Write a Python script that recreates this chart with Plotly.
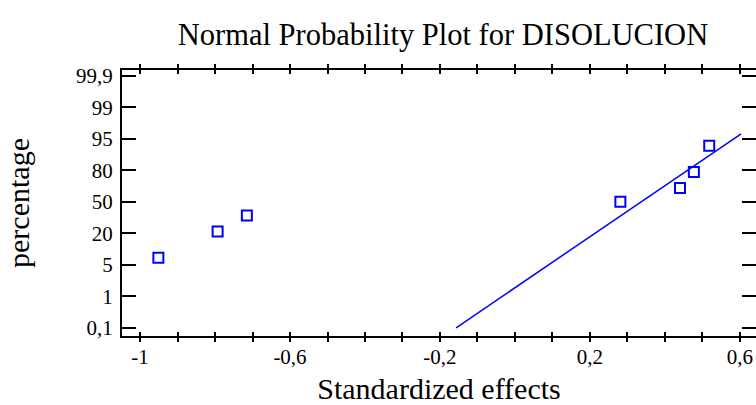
import plotly.graph_objects as go
import numpy as np
from statistics import NormalDist

# ---- data ----
effects = [-0.951, -0.793, -0.715, 0.281, 0.440, 0.477, 0.518]
percent = [7.1, 21.4, 35.7, 50.0, 64.3, 78.6, 92.9]
line_x = [-0.157, 0.603]
line_pct = [0.1, 96.0]
y_tick_pct = [0.1, 1, 5, 20, 50, 80, 95, 99, 99.9]
y_tick_text = ["0,1", "1", "5", "20", "50", "80", "95", "99", "99,9"]
x_tick_vals = [-1.0, -0.9, -0.8, -0.7, -0.6, -0.5, -0.4, -0.3, -0.2, -0.1,
               0.0, 0.1, 0.2, 0.3, 0.4, 0.5, 0.6]
x_tick_text = ["-1", "", "", "", "-0,6", "", "", "", "-0,2", "", "", "",
               "0,2", "", "", "", "0,6"]

nd = NormalDist()
tick_z = [nd.inv_cdf(p / 100.0) for p in y_tick_pct]
tick_idx = list(range(len(y_tick_pct)))


def to_axis(pcts):
    z = [nd.inv_cdf(p / 100.0) for p in pcts]
    return list(np.interp(z, tick_z, tick_idx))


BLUE = "#0000ff"
FONT = "Liberation Serif"
W, H = 756, 405

fig = go.Figure()
fig.add_trace(go.Scatter(
    x=line_x, y=to_axis(line_pct), mode="lines",
    line=dict(color=BLUE, width=1.5), showlegend=False, hoverinfo="skip"))
fig.add_trace(go.Scatter(
    x=effects, y=to_axis(percent), mode="markers",
    marker=dict(symbol="square-open", size=10, color=BLUE,
                line=dict(color=BLUE, width=2)),
    showlegend=False))
# right-side ticks only (no line)
fig.add_trace(go.Scatter(x=[None], y=[None], yaxis="y2", showlegend=False))

yr = [-0.26, 8.18]
fig.update_layout(
    width=W, height=H,
    margin=dict(l=122, r=0, t=70, b=69),
    paper_bgcolor="white", plot_bgcolor="white",
    font=dict(family=FONT, color="black", size=21),
    title=dict(text="Normal Probability Plot for DISOLUCION",
               font=dict(family=FONT, size=30.5, color="black"),
               x=443 / W, xanchor="center", y=1 - 34 / H, yanchor="middle"),
    xaxis=dict(range=[-1.048, 0.6427], tickmode="array",
               tickvals=x_tick_vals, ticktext=x_tick_text,
               ticks="inside", ticklen=4, tickwidth=2, tickcolor="black",
               showline=True, linewidth=2, linecolor="black", mirror="allticks",
               showgrid=False, zeroline=False,
               tickfont=dict(family=FONT, size=21, color="black"),
               ticklabelstandoff=1, ticklabeloverflow="allow",
               title=dict(text="Standardized effects",
                          font=dict(family=FONT, size=30, color="black"),
                          standoff=14)),
    yaxis=dict(range=yr, tickmode="array", tickvals=tick_idx,
               ticktext=y_tick_text,
               ticks="inside", ticklen=14, tickwidth=2, tickcolor="black",
               showline=True, linewidth=2, linecolor="black", mirror=False,
               showgrid=False, zeroline=False,
               tickfont=dict(family=FONT, size=21, color="black"),
               ticklabelstandoff=3,
               title=dict(text="percentage",
                          font=dict(family=FONT, size=30, color="black"),
                          standoff=38)),
    yaxis2=dict(range=yr, overlaying="y", side="right", anchor="x",
                tickmode="array", tickvals=tick_idx, showticklabels=False,
                ticks="inside", ticklen=14, tickwidth=2, tickcolor="black",
                showline=False, showgrid=False, zeroline=False),
)

fig.write_html(
    "out.html",
    config={"displayModeBar": False},
    post_script="document.body.style.margin='0';"
                "document.body.style.overflow='hidden';")
